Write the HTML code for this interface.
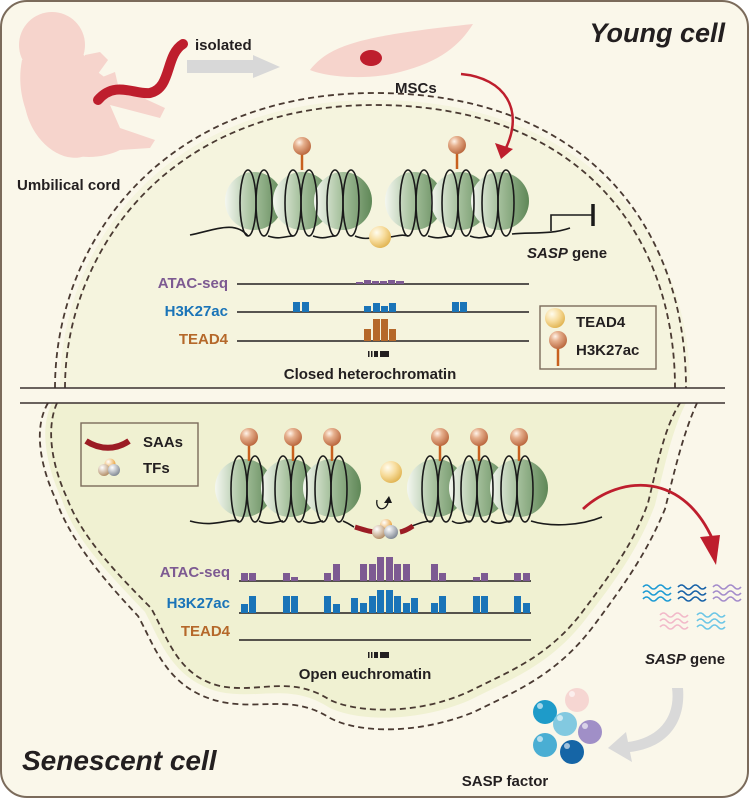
<!DOCTYPE html>
<html><head><meta charset="utf-8"><style>
html,body{margin:0;padding:0;background:#fff;}
svg{display:block;}
text{font-family:"Liberation Sans",Arial,sans-serif;font-weight:bold;}
</style></head><body>
<svg width="750" height="799" viewBox="0 0 750 799" xmlns="http://www.w3.org/2000/svg">
<defs>
<linearGradient id="nuc" x1="0" y1="0" x2="1" y2="0">
<stop offset="0" stop-color="#f4f7f0"/><stop offset="0.45" stop-color="#a9c3a0"/><stop offset="1" stop-color="#5f8757"/>
</linearGradient>
<radialGradient id="lol" cx="0.35" cy="0.3" r="0.75">
<stop offset="0" stop-color="#fff4ea"/><stop offset="0.35" stop-color="#e6b08e"/><stop offset="1" stop-color="#b8643a"/>
</radialGradient>
<radialGradient id="yel" cx="0.35" cy="0.3" r="0.75">
<stop offset="0" stop-color="#fffcee"/><stop offset="0.5" stop-color="#f7dc9c"/><stop offset="1" stop-color="#e0b24e"/>
</radialGradient>
<radialGradient id="tan" cx="0.35" cy="0.3" r="0.75"><stop offset="0" stop-color="#fff"/><stop offset="1" stop-color="#b08a62"/></radialGradient>
<radialGradient id="gry" cx="0.35" cy="0.3" r="0.75"><stop offset="0" stop-color="#fff"/><stop offset="1" stop-color="#7d8590"/></radialGradient>
<radialGradient id="org" cx="0.35" cy="0.3" r="0.75"><stop offset="0" stop-color="#fff"/><stop offset="1" stop-color="#e89a2a"/></radialGradient>
<g id="lp"><line x1="0" y1="0" x2="0" y2="24" stroke="#c8601e" stroke-width="2.5"/><circle cx="0" cy="0" r="9" fill="url(#lol)"/></g>
<g id="ns">
<circle cx="0" cy="0" r="29" fill="url(#nuc)"/>
</g>
<g id="coil" fill="none" stroke="#1a1a1a" stroke-width="1.6">
<ellipse cx="-10" cy="2" rx="8" ry="33"/><ellipse cx="6" cy="2" rx="8" ry="33"/>
</g>
</defs>

<rect x="1" y="1" width="747" height="796" rx="26" fill="#faf7ea" stroke="#7b6b5b" stroke-width="2"/>

<!-- young cell dome fill -->
<path d="M60 388 C60 250 160 100 375 100 C580 100 690 230 690 388 Z" fill="#f5f4de"/>
<path d="M55 388 C55 245 160 93 375 93 C585 93 686 225 686 388" fill="none" stroke="#4a3a32" stroke-width="1.8" stroke-dasharray="6,4"/>
<path d="M65 388 C65 255 165 105 375 105 C578 105 675 232 675 388" fill="none" stroke="#4a3a32" stroke-width="1.8" stroke-dasharray="6,4"/>

<!-- senescent blob -->
<path d="M52 403 C38 430 48 470 62 500 C75 540 110 575 145 612 C160 640 172 680 220 692 C260 700 290 682 330 708 C360 722 420 722 470 700 C510 680 550 665 585 620 C620 575 640 545 655 505 C665 465 672 430 686 403 Z" fill="#f0f1d2"/>
<path d="M48 403 C32 430 42 470 56 500 C70 540 104 580 138 616 C154 644 166 690 222 702 C262 710 292 694 330 718 C360 734 420 734 474 712 C514 692 555 676 592 628 C628 580 648 550 665 509 C675 469 683 434 697 403" fill="none" stroke="#4a3a32" stroke-width="1.8" stroke-dasharray="6,4"/>
<path d="M57 403 C45 430 53 468 67 498 C81 536 115 572 151 608 C167 636 177 676 220 686 C258 694 290 674 330 700 C360 714 420 714 468 692 C508 672 546 658 580 615 C614 570 634 542 648 503 C658 463 664 428 680 403" fill="none" stroke="#4a3a32" stroke-width="1.8" stroke-dasharray="6,4"/>

<line x1="20" y1="388" x2="725" y2="388" stroke="#3a3030" stroke-width="1.6"/>
<line x1="20" y1="403" x2="725" y2="403" stroke="#3a3030" stroke-width="1.6"/>

<!-- embryo -->
<g fill="#f6d4cc">
<circle cx="52" cy="45" r="33"/>
<ellipse cx="65" cy="108" rx="38" ry="52" transform="rotate(-25 65 108)"/>
<path d="M22 60 C15 95 30 130 50 145 C70 160 100 160 120 150 L150 148 L155 140 L120 128 L110 105 L160 118 L165 108 L115 85 L95 70 L80 50 Z"/>
<path d="M85 55 L100 52 L108 60 L95 78 L80 72 Z"/>
<path d="M100 78 L115 72 L118 85 L105 92 Z"/>
</g>
<path d="M98 100 C115 80 135 95 150 93 C172 88 165 55 183 44" fill="none" stroke="#be1e2d" stroke-width="10" stroke-linecap="round"/>
<text x="195" y="50" font-size="15" fill="#231f20">isolated</text>
<polygon points="187,60 253,60 253,55 280,67 253,78 253,73 187,73" fill="#d8d8d8"/>
<path d="M310 70 C330 45 360 36 473 24 C460 45 440 62 400 72 C370 80 330 78 310 70 Z" fill="#f6d4cc"/>
<ellipse cx="371" cy="58" rx="11" ry="8" fill="#be1e2d"/>
<text x="395" y="93" font-size="15" fill="#231f20">MSCs</text>
<path d="M461 74 C505 78 525 110 505 150" fill="none" stroke="#be1e2d" stroke-width="2.5"/>
<polygon points="495,143 513,149 501,159" fill="#be1e2d"/>
<text x="17" y="190" font-size="15" fill="#231f20">Umbilical cord</text>
<text x="725" y="42" font-size="27" font-style="italic" fill="#231f20" text-anchor="end">Young cell</text>

<!-- top chromatin -->
<use href="#ns" x="254" y="201"/><use href="#ns" x="302" y="201"/><use href="#ns" x="343" y="201"/>
<use href="#ns" x="414" y="201"/><use href="#ns" x="460" y="201"/><use href="#ns" x="500" y="201"/>
<use href="#coil" x="258" y="201"/><use href="#coil" x="303" y="201"/><use href="#coil" x="345" y="201"/>
<use href="#coil" x="418" y="201"/><use href="#coil" x="460" y="201"/><use href="#coil" x="500" y="201"/>
<path d="M190 235 C215 230 235 220 248 236 M268 236 C280 240 285 236 293 236 M313 236 C325 240 328 236 335 236 M355 236 C365 240 370 238 380 237 M390 237 C398 236 402 234 408 236 M428 236 C440 240 445 236 452 236 M470 236 C480 240 486 236 492 236 M512 234 C530 232 550 235 570 228" fill="none" stroke="#1a1a1a" stroke-width="1.6"/>
<circle cx="380" cy="237" r="11" fill="url(#yel)"/>
<use href="#lp" x="302" y="146"/><use href="#lp" x="457" y="145"/>
<path d="M551 231 L551 215 L593 215" fill="none" stroke="#1a1a1a" stroke-width="1.6"/>
<line x1="593" y1="204" x2="593" y2="226" stroke="#1a1a1a" stroke-width="3.5"/>
<text x="527" y="258" font-size="15" fill="#231f20"><tspan font-style="italic">SASP</tspan> gene</text>

<g font-size="15" text-anchor="end">
<text x="228" y="288" fill="#7d5a92">ATAC-seq</text>
<text x="228" y="316" fill="#1a74b8">H3K27ac</text>
<text x="228" y="344" fill="#b5682a">TEAD4</text>
</g>
<g stroke="#231f20" stroke-width="1.6">
<line x1="237" y1="284" x2="529" y2="284"/><line x1="237" y1="312" x2="529" y2="312"/><line x1="237" y1="341" x2="529" y2="341"/>
</g>
<g fill="#7d5a92"><rect x="356" y="282" width="7" height="2"/><rect x="364" y="280" width="7" height="4"/><rect x="372" y="281" width="7" height="3"/><rect x="380" y="281" width="7" height="3"/><rect x="388" y="280" width="7" height="4"/><rect x="396" y="281" width="8" height="3"/></g>
<g fill="#1a74b8"><rect x="293" y="302" width="7" height="10"/><rect x="302" y="302" width="7" height="10"/><rect x="364" y="306" width="7" height="6"/><rect x="373" y="303" width="7" height="9"/><rect x="381" y="306" width="7" height="6"/><rect x="389" y="303" width="7" height="9"/><rect x="452" y="302" width="7" height="10"/><rect x="460" y="302" width="7" height="10"/></g>
<g fill="#b5682a"><rect x="364" y="329" width="7" height="12"/><rect x="373" y="319" width="7" height="22"/><rect x="381" y="319" width="7" height="22"/><rect x="389" y="329" width="7" height="12"/></g>
<g fill="#231f20"><rect x="368" y="351" width="1.5" height="6"/><rect x="371" y="351" width="1.5" height="6"/><rect x="374" y="351" width="4" height="6"/><rect x="380" y="351" width="9" height="6"/></g>
<text x="370" y="379" font-size="15" fill="#231f20" text-anchor="middle">Closed heterochromatin</text>

<rect x="540" y="306" width="116" height="63" fill="none" stroke="#7b6b5b" stroke-width="1.4"/>
<circle cx="555" cy="318" r="10" fill="url(#yel)"/>
<line x1="558" y1="345" x2="558" y2="366" stroke="#c8601e" stroke-width="2.5"/>
<circle cx="558" cy="340" r="9" fill="url(#lol)"/>
<text x="576" y="327" font-size="15" fill="#231f20">TEAD4</text>
<text x="576" y="355" font-size="15" fill="#231f20">H3K27ac</text>

<!-- bottom legend -->
<rect x="81" y="423" width="117" height="63" fill="none" stroke="#7b6b5b" stroke-width="1.4"/>
<path d="M86 441 C100 450 116 450 129 441" fill="none" stroke="#9b1c24" stroke-width="6"/>
<text x="143" y="447" font-size="15" fill="#231f20">SAAs</text>
<circle cx="110" cy="464" r="5.5" fill="url(#org)"/>
<circle cx="104" cy="470" r="6" fill="url(#tan)"/><circle cx="114" cy="470" r="6" fill="url(#gry)"/>
<text x="143" y="473" font-size="15" fill="#231f20">TFs</text>

<!-- bottom chromatin -->
<use href="#ns" x="244" y="488"/><use href="#ns" x="290" y="488"/><use href="#ns" x="332" y="488"/>
<use href="#ns" x="436" y="488"/><use href="#ns" x="478" y="488"/><use href="#ns" x="519" y="488"/>
<use href="#coil" x="249" y="487"/><use href="#coil" x="293" y="487"/><use href="#coil" x="333" y="487"/>
<use href="#coil" x="440" y="487"/><use href="#coil" x="479" y="487"/><use href="#coil" x="519" y="487"/>
<use href="#lp" x="249" y="437"/><use href="#lp" x="293" y="437"/><use href="#lp" x="332" y="437"/>
<use href="#lp" x="440" y="437"/><use href="#lp" x="479" y="437"/><use href="#lp" x="519" y="437"/>
<path d="M190 521 C215 528 228 518 239 521 M259 521 C270 526 276 521 283 521 M303 521 C314 526 317 521 323 521 M343 521 C350 524 352 526 354 527 M412 526 C420 523 425 521 432 521 M452 521 C460 526 465 521 471 521 M491 521 C500 526 505 521 511 521 M531 521 C550 527 580 526 602 517" fill="none" stroke="#1a1a1a" stroke-width="1.6"/>
<path d="M355 527 C365 530 370 532 378 532 M400 532 C405 531 410 528 413 526" fill="none" stroke="#9b1c24" stroke-width="5"/>
<circle cx="386" cy="525" r="6" fill="url(#org)"/>
<circle cx="379" cy="532" r="7" fill="url(#tan)"/><circle cx="391" cy="532" r="7" fill="url(#gry)"/>
<circle cx="391" cy="472" r="11" fill="url(#yel)"/>
<path d="M377 500 C375 510 385 512 388 503" fill="none" stroke="#1a1a1a" stroke-width="1.3"/>
<polygon points="384,503 392,503 389,496" fill="#1a1a1a"/>

<path d="M583 509 C620 475 685 470 715 545" fill="none" stroke="#be1e2d" stroke-width="2.8"/>
<polygon points="700,537 720,535 716,565" fill="#be1e2d"/>

<g font-size="15" text-anchor="end">
<text x="230" y="577" fill="#7d5a92">ATAC-seq</text>
<text x="230" y="608" fill="#1a74b8">H3K27ac</text>
<text x="230" y="636" fill="#b5682a">TEAD4</text>
</g>
<g stroke="#231f20" stroke-width="1.6">
<line x1="239" y1="581" x2="531" y2="581"/><line x1="239" y1="613" x2="531" y2="613"/><line x1="239" y1="640" x2="531" y2="640"/>
</g>
<g fill="#7d5a92">
<rect x="241" y="573" width="7" height="8"/><rect x="249" y="573" width="7" height="8"/><rect x="283" y="573" width="7" height="8"/><rect x="291" y="577" width="7" height="4"/><rect x="324" y="573" width="7" height="8"/><rect x="333" y="564" width="7" height="17"/><rect x="360" y="564" width="7" height="17"/><rect x="369" y="564" width="7" height="17"/><rect x="377" y="557" width="7" height="24"/><rect x="386" y="557" width="7" height="24"/><rect x="394" y="564" width="7" height="17"/><rect x="403" y="564" width="7" height="17"/><rect x="431" y="564" width="7" height="17"/><rect x="439" y="573" width="7" height="8"/><rect x="473" y="577" width="7" height="4"/><rect x="481" y="573" width="7" height="8"/><rect x="514" y="573" width="7" height="8"/><rect x="523" y="573" width="7" height="8"/>
</g>
<g fill="#1a74b8">
<rect x="241" y="604" width="7" height="9"/><rect x="249" y="596" width="7" height="17"/><rect x="283" y="596" width="7" height="17"/><rect x="291" y="596" width="7" height="17"/><rect x="324" y="596" width="7" height="17"/><rect x="333" y="604" width="7" height="9"/><rect x="351" y="598" width="7" height="15"/><rect x="360" y="603" width="7" height="10"/><rect x="369" y="596" width="7" height="17"/><rect x="377" y="590" width="7" height="23"/><rect x="386" y="590" width="7" height="23"/><rect x="394" y="596" width="7" height="17"/><rect x="403" y="603" width="7" height="10"/><rect x="411" y="598" width="7" height="15"/><rect x="431" y="603" width="7" height="10"/><rect x="439" y="596" width="7" height="17"/><rect x="473" y="596" width="7" height="17"/><rect x="481" y="596" width="7" height="17"/><rect x="514" y="596" width="7" height="17"/><rect x="523" y="603" width="7" height="10"/>
</g>
<g fill="#231f20"><rect x="368" y="652" width="1.5" height="6"/><rect x="371" y="652" width="1.5" height="6"/><rect x="374" y="652" width="4" height="6"/><rect x="380" y="652" width="9" height="6"/></g>
<text x="365" y="679" font-size="15" fill="#231f20" text-anchor="middle">Open euchromatin</text>

<!-- SASP waves -->
<g fill="none" stroke-width="1.6">
<g stroke="#1e9bd4"><path d="M643 587 q3.5 -4 7 0 t7 0 t7 0 t7 0"/><path d="M643 593 q3.5 -4 7 0 t7 0 t7 0 t7 0"/><path d="M643 599 q3.5 -4 7 0 t7 0 t7 0 t7 0"/></g>
<g stroke="#1762a8"><path d="M678 587 q3.5 -4 7 0 t7 0 t7 0 t7 0"/><path d="M678 593 q3.5 -4 7 0 t7 0 t7 0 t7 0"/><path d="M678 599 q3.5 -4 7 0 t7 0 t7 0 t7 0"/></g>
<g stroke="#a48ccb"><path d="M713 587 q3.5 -4 7 0 t7 0 t7 0 t7 0"/><path d="M713 593 q3.5 -4 7 0 t7 0 t7 0 t7 0"/><path d="M713 599 q3.5 -4 7 0 t7 0 t7 0 t7 0"/></g>
<g stroke="#f2b9c9"><path d="M660 615 q3.5 -4 7 0 t7 0 t7 0 t7 0"/><path d="M660 621 q3.5 -4 7 0 t7 0 t7 0 t7 0"/><path d="M660 627 q3.5 -4 7 0 t7 0 t7 0 t7 0"/></g>
<g stroke="#6cc6e6"><path d="M697 615 q3.5 -4 7 0 t7 0 t7 0 t7 0"/><path d="M697 621 q3.5 -4 7 0 t7 0 t7 0 t7 0"/><path d="M697 627 q3.5 -4 7 0 t7 0 t7 0 t7 0"/></g>
</g>
<text x="645" y="664" font-size="15" fill="#231f20"><tspan font-style="italic">SASP</tspan> gene</text>

<!-- gray curved arrow -->
<path d="M672 688 L683 688 C686 725 665 748 630 752 L632 762 L608 748 L626 732 L628 742 C658 738 676 718 672 688 Z" fill="#d9d9d9"/>

<!-- SASP factor balls -->
<circle cx="577" cy="700" r="12" fill="#f6d6d2"/>
<circle cx="545" cy="712" r="12" fill="#1e9bc9"/>
<circle cx="565" cy="724" r="12" fill="#82c9e0"/>
<circle cx="590" cy="732" r="12" fill="#a08fc7"/>
<circle cx="545" cy="745" r="12" fill="#4aaed3"/>
<circle cx="572" cy="752" r="12" fill="#1565a6"/>
<g fill="#fff" opacity="0.6"><circle cx="540" cy="706" r="3"/><circle cx="560" cy="718" r="3"/><circle cx="585" cy="726" r="3"/><circle cx="540" cy="739" r="3"/><circle cx="567" cy="746" r="3"/><circle cx="572" cy="694" r="3"/></g>
<text x="505" y="786" font-size="15" fill="#231f20" text-anchor="middle">SASP factor</text>

<text x="22" y="770" font-size="28" font-style="italic" fill="#231f20">Senescent cell</text>
</svg>
</body></html>
